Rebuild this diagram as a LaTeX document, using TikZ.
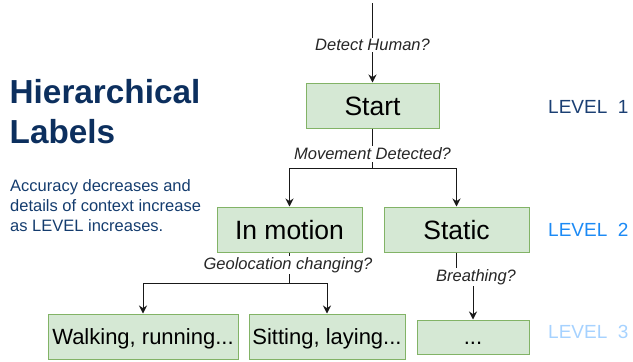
\documentclass[tikz,border=0pt]{standalone}
\usepackage{fontspec}
\setmainfont{Liberation Sans}
\usetikzlibrary{arrows.meta}
\definecolor{boxfill}{HTML}{D5E8D4}
\definecolor{boxdraw}{HTML}{82B366}
\definecolor{navy}{HTML}{0C2F5E}
\definecolor{paranavy}{HTML}{143C6E}
\definecolor{lvlone}{HTML}{1B3F73}
\definecolor{lvltwo}{HTML}{1C8AF5}
\definecolor{lvlthree}{HTML}{A6D2FF}
\begin{document}
\begin{tikzpicture}[x=1pt,y=-1pt,
 box/.style={draw=boxdraw, fill=boxfill, line width=1pt, inner sep=0pt, text height=19pt, text depth=0pt, font=\fontsize{26.5}{30}\selectfont},
 smallbox/.style={box, text height=15.8pt, font=\fontsize{22}{26}\selectfont},
 qlabel/.style={fill=white, inner sep=1.5pt, font=\fontsize{16.5}{19}\selectfont\itshape, text=black!85},
 arr/.style={draw=black!90, line width=1pt, -{Stealth[length=8pt,width=8pt]}},
 ln/.style={draw=black!90, line width=1pt},
 lvl/.style={font=\fontsize{19}{23}\selectfont, anchor=base west, inner sep=0pt},
 para/.style={font=\fontsize{16.5}{20}\selectfont, anchor=base west, inner sep=0pt, text=paranavy},
 ttl/.style={font=\fontsize{33.3}{38}\selectfont\bfseries, anchor=base west, inner sep=0pt, text=navy},
 ]
\useasboundingbox (0,0) rectangle (633,362);

% boxes
\node[box, minimum width=133pt, minimum height=45pt] (start) at (372.5,105.5) {Start};
\node[box, minimum width=145pt, minimum height=45pt] (motion) at (289.5,229.5) {In motion};
\node[box, minimum width=145pt, minimum height=45pt] (static) at (456.5,229.5) {Static};
\node[smallbox, minimum width=190pt, minimum height=45pt] (walk) at (143,336.5) {Walking, running...};
\node[smallbox, minimum width=156pt, minimum height=45pt] (sit) at (327,336.5) {Sitting, laying...};
\node[smallbox, minimum width=112pt, minimum height=34pt] (dots) at (473,337) {...};

% connectors
\coordinate (top) at (372.5,3);
\draw[arr] (top) -- (start);
\node[qlabel] (q1) at (372.5,45) {Detect Human?};

\coordinate (split1) at (372.5,168);
\draw[ln] (start) -- (split1);
\draw[arr] (split1) -| (motion);
\draw[arr] (split1) -| (static);
\node[qlabel] (q2) at (372.5,154) {Movement Detected?};

\coordinate (split2) at (289.5,283);
\draw[ln] (motion) -- (split2);
\draw[arr] (split2) -| (walk);
\draw[arr] (split2) -| (sit);
\node[qlabel] (q3) at (288,265) {Geolocation changing?};

\coordinate (jog) at (465,277);
\draw[arr] (static) |- (jog) -| (dots);
\node[qlabel] (q4) at (476,277) {Breathing?};

% level labels
\node[lvl, text=lvlone] (l1) at (548,113.3) {LEVEL\ \ 1};
\node[lvl, text=lvltwo] (l2) at (548,236.7) {LEVEL\ \ 2};
\node[lvl, text=lvlthree] (l3) at (548,338.3) {LEVEL\ \ 3};

% title and description
\node[ttl] (t1) at (9.5,103) {Hierarchical};
\node[ttl] (t2) at (9.5,143) {Labels};
\node[para] (p1) at (10,191.5) {Accuracy decreases and};
\node[para] (p2) at (10,211.5) {details of context increase};
\node[para] (p3) at (10,231.5) {as LEVEL increases.};
\end{tikzpicture}
\end{document}
